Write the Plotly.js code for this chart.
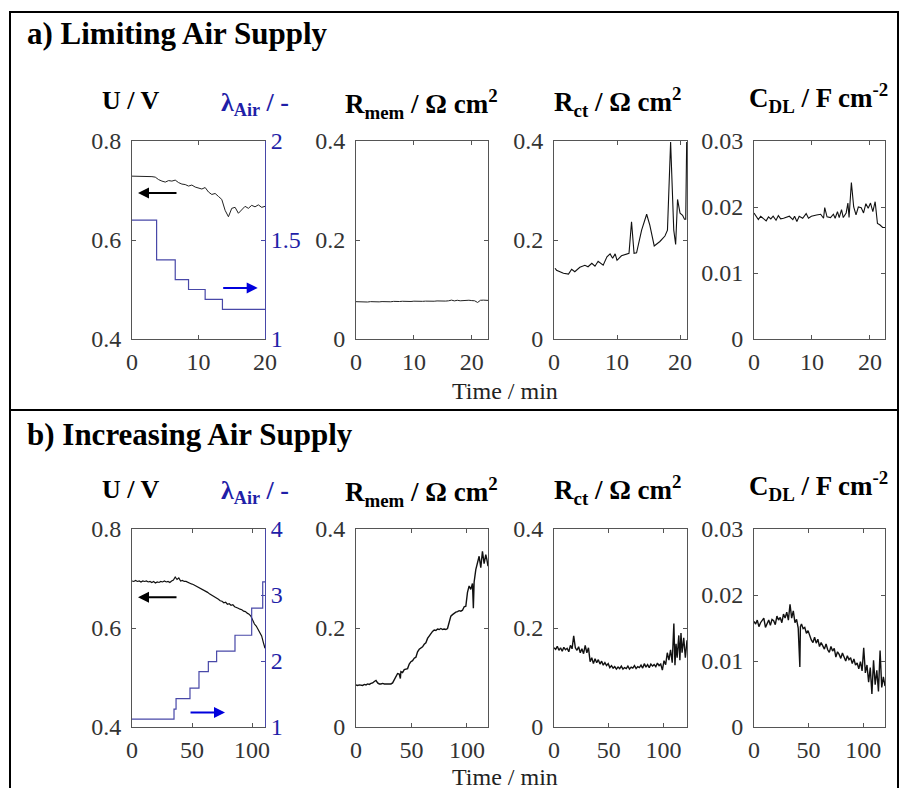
<!DOCTYPE html>
<html>
<head>
<meta charset="utf-8">
<script src="https://cdn.plot.ly/plotly-3.0.1.min.js"></script>
<style>
html,body{margin:0;padding:0;background:#fff;}
#chart{width:900px;height:788px;}
</style>
</head>
<body>
<div id="chart"></div>
<script>
// ---------------- DATA: a) Limiting Air Supply ----------------
const tA_U = [0,0.5,1,1.5,2,2.5,3,3.5,4,4.5,5,5.5,6,6.5,7,7.5,8,8.5,9,9.5,10,10.5,11,11.5,12,12.5,13,13.5,14,14.5,15,15.5,16,16.5,17,17.5,18,18.5,19,19.5,20];
const uA = [0.729,0.729,0.728,0.729,0.729,0.729,0.728,0.727,0.722,0.719,0.717,0.720,0.719,0.721,0.716,0.713,0.712,0.709,0.711,0.707,0.705,0.703,0.706,0.697,0.692,0.694,0.688,0.682,0.660,0.647,0.664,0.666,0.654,0.662,0.668,0.664,0.670,0.667,0.671,0.666,0.668];
const tA_lam = [0,3.7,6.5,8.5,11,13.6,20];
const lamA = [1.6,1.4,1.3,1.25,1.2,1.15,1.15];
const tA_Rmem = [0,0.5,1,1.5,2,2.5,3,3.5,4,4.5,5,5.5,6,6.5,7,7.5,8,8.5,9,9.5,10,10.5,11,11.5,12,12.5,13,13.5,14,14.5,15,15.5,16,16.5,17,17.5,18,18.5,19,19.5,20,20.5,21,21.5,22,22.5,22.8];
const rmemA = [0.0754,0.0750,0.0748,0.0752,0.0747,0.0755,0.0751,0.0757,0.0750,0.0756,0.0753,0.0758,0.0752,0.0760,0.0755,0.0757,0.0762,0.0757,0.0763,0.0758,0.0764,0.0760,0.0766,0.0761,0.0765,0.0762,0.0768,0.0763,0.0769,0.0765,0.0770,0.0766,0.0772,0.0785,0.0770,0.0782,0.0772,0.0780,0.0775,0.0783,0.0776,0.0772,0.0738,0.0782,0.0785,0.0781,0.0780];
const tA_Rct = [0.16,0.4,1.5,2.3,2.8,3.3,4.1,4.9,5.4,6.0,6.5,7.0,7.8,8.4,8.9,9.3,9.7,10.0,10.7,11.5,11.9,12.3,12.7,13.1,13.9,14.7,15.2,15.9,16.8,17.6,18.0,18.5,19.0,19.3,19.6,20.0,20.4,20.7,20.9,21.05];
const rctA = [0.143,0.139,0.133,0.131,0.141,0.136,0.145,0.149,0.146,0.153,0.147,0.157,0.149,0.166,0.172,0.163,0.172,0.159,0.168,0.172,0.173,0.237,0.173,0.174,0.220,0.252,0.230,0.188,0.197,0.208,0.220,0.398,0.220,0.191,0.282,0.254,0.250,0.242,0.242,0.398];
const tA_Cdl = [0,0.35,0.75,1.15,1.6,2.1,2.5,2.9,3.3,3.8,4.2,4.6,5.1,5.6,6.1,6.7,7.0,7.4,7.8,8.4,9.0,9.4,9.9,10.8,11.5,12.0,12.2,12.6,13.2,13.7,14.0,14.4,14.7,15.1,15.4,15.9,16.2,16.4,16.8,17.2,17.6,18.0,18.5,18.9,19.3,19.7,20.1,20.5,20.9,21.3,21.7,22.2,22.6];
const cdlA = [0.0191,0.0186,0.0181,0.0186,0.0183,0.0179,0.0185,0.0182,0.0186,0.0180,0.0187,0.0182,0.0183,0.0184,0.0186,0.0181,0.0186,0.0178,0.0186,0.0183,0.0190,0.0183,0.0186,0.0188,0.0189,0.0183,0.0199,0.0185,0.0184,0.0189,0.0183,0.0193,0.0184,0.0196,0.0184,0.0191,0.0206,0.0184,0.0237,0.0200,0.0188,0.0200,0.0199,0.0191,0.0205,0.0198,0.0206,0.0193,0.0208,0.0175,0.0173,0.0169,0.0169];

// ---------------- DATA: b) Increasing Air Supply ----------------
const tB_U = [0,1.5,3,4.5,6,7.5,9,10.5,12,13.5,15,16.5,18,19.5,21,22.5,24,25.5,27,28.5,30,31.5,33,34.5,36,37.5,39,40.5,42,43.5,45,46.5,48,49.5,51,52.5,54,55.5,57,58.5,60,61.5,63,64.5,66,67.5,69,70.5,72,73.5,75,76.5,78,79.5,81,82.5,84,85.5,87,88.5,90,91.5,93,94.5,96,97.5,99,100.5,102,103.5,105,106.5,108,109.5,110.8];
const uB = [0.695,0.694,0.696,0.694,0.695,0.693,0.695,0.694,0.695,0.693,0.694,0.692,0.694,0.691,0.693,0.692,0.694,0.693,0.695,0.693,0.694,0.692,0.695,0.697,0.703,0.698,0.701,0.695,0.696,0.694,0.694,0.692,0.691,0.689,0.688,0.686,0.685,0.682,0.681,0.678,0.677,0.674,0.672,0.669,0.667,0.665,0.662,0.660,0.658,0.655,0.654,0.651,0.652,0.648,0.649,0.646,0.647,0.643,0.642,0.640,0.638,0.637,0.634,0.633,0.630,0.628,0.624,0.614,0.608,0.604,0.597,0.591,0.584,0.570,0.559];
const tB_lam = [0,35,36.7,48.3,55.8,63.6,70.5,85.8,99.7,108.9,110.8];
const lamB = [1.12,1.27,1.43,1.59,1.84,1.99,2.15,2.39,2.80,3.20,3.20];
const tB_Rmem = [0,1.5,3,4.5,6,7.5,9,10.5,12,13.5,15,16.5,18,19.5,21,22.5,24,25.5,27,28.5,30,31.5,33,34.5,36,37.5,39,40,40.5,42,43.5,45,46.5,48,49.5,51,52.5,54,55.5,57,58.5,60,61.5,63,64.5,66,67.5,69,70.5,72,73.5,75,76.5,78,79.5,81,82.5,84,85.5,87,88.5,90,91.5,93,94.5,96,97.5,99,100.5,102,103.5,105,105.8,106.5,108,109.5,111,112.5,114,115.5,117,118,119];
const rmemB = [0.085,0.084,0.085,0.085,0.084,0.086,0.085,0.087,0.086,0.088,0.089,0.092,0.094,0.089,0.087,0.087,0.088,0.087,0.087,0.088,0.087,0.087,0.089,0.095,0.104,0.108,0.107,0.098,0.112,0.110,0.116,0.117,0.118,0.127,0.132,0.134,0.139,0.141,0.152,0.157,0.159,0.162,0.167,0.170,0.179,0.184,0.189,0.193,0.196,0.195,0.198,0.197,0.199,0.197,0.198,0.197,0.199,0.215,0.224,0.227,0.230,0.232,0.233,0.235,0.234,0.236,0.243,0.244,0.272,0.285,0.278,0.290,0.240,0.293,0.318,0.330,0.345,0.322,0.355,0.330,0.348,0.338,0.325];
const tB_Rct = [0,1.5,3,4.5,6,7.5,9,10.5,12,13.5,15,16.5,18,19.5,21,22.5,24,25.5,27,28.5,30,31.5,33,34.5,36,37.5,39,40.5,42,43.5,45,46.5,48,49.5,51,52.5,54,55.5,57,58.5,60,61.5,63,64.5,66,67.5,69,70.5,72,73.5,75,76.5,78,79.5,81,82.5,84,85.5,87,88.5,90,91.5,93,94.5,96,97.5,99,100.5,102,103.5,105,106.5,108,109.5,110.5,111.5,112.5,114,115,116,117,118.5,120,121.5];
const rctB = [0.160,0.157,0.163,0.155,0.160,0.153,0.161,0.156,0.159,0.152,0.165,0.158,0.184,0.160,0.155,0.162,0.150,0.158,0.148,0.165,0.150,0.160,0.132,0.140,0.128,0.138,0.130,0.136,0.127,0.133,0.125,0.130,0.124,0.128,0.120,0.124,0.119,0.122,0.117,0.121,0.118,0.123,0.117,0.120,0.118,0.123,0.117,0.121,0.119,0.124,0.118,0.122,0.120,0.125,0.119,0.128,0.121,0.126,0.120,0.127,0.123,0.126,0.122,0.129,0.124,0.127,0.115,0.134,0.126,0.150,0.135,0.156,0.130,0.209,0.125,0.168,0.140,0.185,0.135,0.190,0.150,0.180,0.140,0.175];
const tB_Cdl = [0,1.5,3,4.5,6,7.5,9,10.5,12,13.5,15,16.5,18,19.5,21,22.5,24,25.5,27,28.5,30,31.5,33,34.5,36,37.5,39,40.5,42,42.5,43.5,45,46.5,48,49.5,51,52.5,54,55.5,57,58.5,60,61.5,63,64.5,66,67.5,69,70.5,72,73.5,75,76.5,78,79.5,81,82.5,84,85.5,87,88.5,90,91.5,93,94.5,96,97.5,99,100.5,102,103.5,105,106.5,108,109.5,111,112.5,114,115.5,117,118.5,120];
const cdlB = [0.0160,0.0156,0.0162,0.0152,0.0158,0.0161,0.0165,0.0151,0.0157,0.0162,0.0154,0.0163,0.0161,0.0155,0.0168,0.0162,0.0166,0.0158,0.0171,0.0165,0.0174,0.0162,0.0186,0.0165,0.0176,0.0158,0.0163,0.0150,0.0091,0.0152,0.0156,0.0149,0.0151,0.0142,0.0146,0.0137,0.0132,0.0128,0.0136,0.0127,0.0133,0.0122,0.0128,0.0123,0.0118,0.0126,0.0117,0.0113,0.0122,0.0115,0.0119,0.0106,0.0114,0.0110,0.0104,0.0112,0.0107,0.0100,0.0108,0.0102,0.0105,0.0096,0.0103,0.0094,0.0097,0.0088,0.0099,0.0085,0.0120,0.0082,0.0094,0.0068,0.0090,0.0050,0.0101,0.0064,0.0086,0.0054,0.0116,0.0060,0.0076,0.0062];

// ---------------- TICKS ----------------
const xTicksA = [0,10,20];
const xTicksB = [0,50,100];
const uTicks = [0.4,0.6,0.8];
const lamTicksA = [1,1.5,2];
const lamTicksB = [1,2,3,4];
const rTicks = [0,0.2,0.4];
const cTicks = [0,0.01,0.02,0.03];

// ---------------- STYLE ----------------
const FONT = 'Liberation Serif';
const AX = '#555';
const BLUE_TXT = '#1f1fa8';
const BLUE_LINE = '#4848a8';
const W = 900, H = 788;
const px = v => v / W;
const py = v => 1 - v / H;

function xax(dom, range, ticks, anchor) {
  return {domain: dom, range: range, tickvals: ticks, anchor: anchor,
    showline: true, linecolor: AX, linewidth: 1, mirror: 'ticks',
    ticks: 'inside', ticklen: 4, tickcolor: AX, showgrid: false, zeroline: false,
    ticklabelstandoff: 1,
    tickfont: {family: FONT, size: 24, color: '#333'}, fixedrange: true};
}
function yax(dom, range, ticks, anchor, mirror) {
  return {domain: dom, range: range, tickvals: ticks, anchor: anchor,
    showline: true, linecolor: AX, linewidth: 1, mirror: mirror,
    ticks: 'inside', ticklen: 4, tickcolor: AX, showgrid: false, zeroline: false,
    ticklabelstandoff: 5,
    tickfont: {family: FONT, size: 24, color: '#333'}, fixedrange: true};
}
function lamax(range, ticks, anchor, overlay) {
  return {range: range, tickvals: ticks, anchor: anchor, overlaying: overlay, side: 'right',
    showline: true, linecolor: BLUE_LINE, linewidth: 1, ticks: 'inside', ticklen: 4,
    tickcolor: BLUE_LINE, showgrid: false, zeroline: false,
    tickfont: {family: FONT, size: 24, color: BLUE_TXT}, fixedrange: true};
}

const xd = [[px(132), px(265)], [px(356), px(488)], [px(554), px(687)], [px(754), px(885)]];
const ydA = [py(339), py(141)];
const ydB = [py(727), py(529)];

function line(x, y, xa, ya, color, width, shape) {
  return {x: x, y: y, xaxis: xa, yaxis: ya, type: 'scatter', mode: 'lines',
    line: {color: color, width: width, shape: shape || 'linear'}, hoverinfo: 'skip', showlegend: false};
}

const data = [
  line(tA_U, uA, 'x', 'y', '#222', 1),
  line(tA_lam, lamA, 'x', 'y9', BLUE_LINE, 1.2, 'hv'),
  line(tA_Rmem, rmemA, 'x2', 'y2', '#222', 1),
  line(tA_Rct, rctA, 'x3', 'y3', '#111', 1.1),
  line(tA_Cdl, cdlA, 'x4', 'y4', '#111', 1.1),
  line(tB_U, uB, 'x5', 'y5', '#111', 1.2),
  line(tB_lam, lamB, 'x5', 'y10', BLUE_LINE, 1.2, 'hv'),
  line(tB_Rmem, rmemB, 'x6', 'y6', '#111', 1.4),
  line(tB_Rct, rctB, 'x7', 'y7', '#111', 1.4),
  line(tB_Cdl, cdlB, 'x8', 'y8', '#111', 1.4)
];

function lbl(text, x, y, color, size, anchor) {
  return {text: text, xref: 'paper', yref: 'paper', x: px(x), y: py(y), showarrow: false,
    xanchor: anchor || 'center', yanchor: 'middle',
    font: {family: FONT, size: size, color: color || '#000'}};
}
function arrow(xa, ya, x, y, ax, color) {
  return {xref: xa, yref: ya, x: x, y: y, ax: ax, ay: 0, text: '', showarrow: true,
    arrowhead: 2, arrowsize: 1.1, arrowwidth: 2, arrowcolor: color};
}

const annotations = [];
[[0, 'a) Limiting Air Supply'], [401, 'b) Increasing Air Supply']].forEach(function (p) {
  const d = p[0];
  annotations.push(lbl('<b>' + p[1] + '</b>', 25, 33 + d, '#000', 31, 'left'));
});
[0, 388].forEach(function (d) {
  annotations.push(lbl('<b>U / V</b>', 131, 101 + d, '#000', 26));
  annotations.push(lbl('<b>λ<sub>Air</sub> / -</b>', 255, 104 + d, BLUE_TXT, 26));
  annotations.push(lbl('<b>R<sub>mem</sub> / Ω cm<sup>2</sup></b>', 421, 104 + d, '#000', 27));
  annotations.push(lbl('<b>R<sub>ct</sub> / Ω cm<sup>2</sup></b>', 618, 102 + d, '#000', 27));
  annotations.push(lbl('<b>C<sub>DL</sub> / F cm<sup>-2</sup></b>', 818, 98 + d, '#000', 27));
});
annotations.push(lbl('Time / min', 505, 391, '#222', 24));
annotations.push(lbl('Time / min', 505, 777, '#222', 24));
// direction arrows
annotations.push(arrow('x', 'y', 0.9, 0.695, 40, '#000'));
annotations.push(arrow('x', 'y9', 18.9, 1.258, -36, '#0000dd'));
annotations.push(arrow('x5', 'y5', 5, 0.662, 40, '#000'));
annotations.push(arrow('x5', 'y10', 77.5, 1.22, -36, '#0000dd'));

const shapes = [
  {type: 'rect', xref: 'paper', yref: 'paper', x0: px(10), x1: px(898), y0: py(410), y1: py(12), line: {color: '#000', width: 2}},
  {type: 'line', xref: 'paper', yref: 'paper', x0: px(10), x1: px(10), y0: py(410), y1: 0, line: {color: '#000', width: 2}},
  {type: 'line', xref: 'paper', yref: 'paper', x0: px(898), x1: px(898), y0: py(410), y1: 0, line: {color: '#000', width: 2}}
];

const layout = {
  width: W, height: H, margin: {l: 0, r: 0, t: 0, b: 0},
  paper_bgcolor: '#fff', plot_bgcolor: '#fff', showlegend: false,
  font: {family: FONT, size: 24, color: '#333'},
  xaxis: xax(xd[0], [0, 20], xTicksA, 'y'),
  xaxis2: xax(xd[1], [0, 22.8], xTicksA, 'y2'),
  xaxis3: xax(xd[2], [0, 21.1], xTicksA, 'y3'),
  xaxis4: xax(xd[3], [0, 22.6], xTicksA, 'y4'),
  xaxis5: xax(xd[0], [0, 110.8], xTicksB, 'y5'),
  xaxis6: xax(xd[1], [0, 119], xTicksB, 'y6'),
  xaxis7: xax(xd[2], [0, 121.5], xTicksB, 'y7'),
  xaxis8: xax(xd[3], [0, 120], xTicksB, 'y8'),
  yaxis: yax(ydA, [0.4, 0.8], uTicks, 'x', false),
  yaxis2: yax(ydA, [0, 0.4], rTicks, 'x2', 'ticks'),
  yaxis3: yax(ydA, [0, 0.4], rTicks, 'x3', 'ticks'),
  yaxis4: yax(ydA, [0, 0.03], cTicks, 'x4', 'ticks'),
  yaxis5: yax(ydB, [0.4, 0.8], uTicks, 'x5', false),
  yaxis6: yax(ydB, [0, 0.4], rTicks, 'x6', 'ticks'),
  yaxis7: yax(ydB, [0, 0.4], rTicks, 'x7', 'ticks'),
  yaxis8: yax(ydB, [0, 0.03], cTicks, 'x8', 'ticks'),
  yaxis9: lamax([1, 2], lamTicksA, 'x', 'y'),
  yaxis10: lamax([1, 4], lamTicksB, 'x5', 'y5'),
  annotations: annotations,
  shapes: shapes
};

Plotly.newPlot('chart', data, layout, {staticPlot: true, displayModeBar: false});
</script>
</body>
</html>
